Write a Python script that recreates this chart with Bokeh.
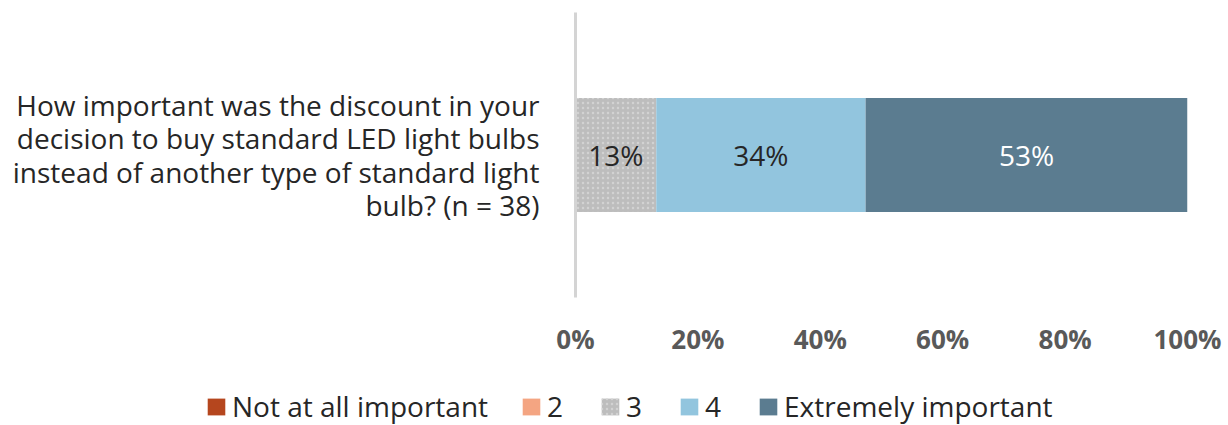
from bokeh.plotting import figure
from bokeh.layouts import column
from bokeh.models import (ColumnDataSource, Range1d, FactorRange, FixedTicker,
                          PrintfTickFormatter, Legend, LegendItem)
from bokeh.embed import file_html
from bokeh.resources import INLINE
from bokeh.core.properties import value

question = ("How important was the discount in your\n"
            "decision to buy standard LED light bulbs\n"
            "instead of another type of standard light\n"
            "bulb? (n = 38)")
series = ["Not at all important", "2", "3", "4", "Extremely important"]
values = [0.0, 0.0, 13.2, 34.2, 52.6]
bar_labels = ["", "", "13%", "34%", "53%"]
colors = ["#B5461E", "#F4A582", "#BDBDBD", "#92C5DE", "#5B7C90"]
label_colors = ["#262626", "#262626", "#262626", "#262626", "#FFFFFF"]
x_ticks = [0, 20, 40, 60, 80, 100]

FONT = "Open Sans"
W = 1228
H_MAIN = 370
H_LEG = 55

def hatch_kw(name):
    if name == "3":
        return dict(hatch_pattern="dot", hatch_color="#D2D2D2", hatch_scale=5,
                    hatch_weight=1)
    return {}

p = figure(width=W, height=H_MAIN, y_range=FactorRange(factors=[question]),
           x_range=Range1d(0, 100), output_backend="svg", toolbar_location=None,
           min_border_left=575, min_border_right=41, min_border_top=12,
           min_border_bottom=73)
p.frame_align = False
p.outline_line_color = None
p.xgrid.visible = False
p.ygrid.visible = False
p.background_fill_color = "white"
p.border_fill_color = "white"

sources = []
left = 0.0
mids, labs, lcols = [], [], []
for name, v, c, lab, lc in zip(series, values, colors, bar_labels, label_colors):
    src = ColumnDataSource(dict(y=[question], left=[left], right=[left + v]))
    sources.append(src)
    p.hbar(y="y", left="left", right="right", height=0.4, source=src,
           fill_color=c, line_color=None, **hatch_kw(name))
    if v > 0:
        mids.append(left + v / 2)
        labs.append(lab)
        lcols.append(lc)
    left += v

lsrc = ColumnDataSource(dict(x=mids, y=[question] * len(mids), t=labs, c=lcols))
p.text(x="x", y="y", text="t", source=lsrc, text_color="c",
       text_align="center", text_baseline="middle", text_font=value(FONT),
       text_font_size="28px")

# x axis
xa = p.xaxis[0]
xa.ticker = FixedTicker(ticks=x_ticks)
xa.formatter = PrintfTickFormatter(format="%d%%")
xa.axis_line_color = None
xa.major_tick_line_color = None
xa.minor_tick_line_color = None
xa.major_label_text_font = FONT
xa.major_label_text_font_size = "26px"
xa.major_label_text_font_style = "bold"
xa.major_label_text_color = "#595959"
xa.major_label_standoff = 17

# y axis
ya = p.yaxis[0]
ya.axis_line_color = "#D4D4D4"
ya.axis_line_width = 3
ya.major_tick_line_color = None
ya.minor_tick_line_color = None
ya.major_label_text_font = FONT
ya.major_label_text_font_size = "28px"
ya.major_label_text_color = "#262626"
ya.major_label_standoff = 30
ya.major_label_text_line_height = 0.87

# legend strip below the chart (same series, drawn off-range so only the legend shows)
pl = figure(width=W, height=H_LEG, x_range=Range1d(0, W),
            y_range=FactorRange(factors=["legend"]),
            x_axis_type=None, y_axis_type=None,
            output_backend="svg", toolbar_location=None,
            min_border_left=0, min_border_right=0, min_border_top=0,
            min_border_bottom=0)
pl.frame_align = False
pl.grid.visible = False
pl.outline_line_color = None
pl.background_fill_color = "white"
pl.border_fill_color = "white"

items = []
for name, c, src in zip(series, colors, sources):
    r = pl.hbar(y="y", left="left", right="right", height=0.4, source=src,
                fill_color=c, line_color=None, **hatch_kw(name))
    items.append(LegendItem(label=name, renderers=[r]))

legend = Legend(items=items, orientation="horizontal", location=(205, 0),
                glyph_width=22, glyph_height=21, label_standoff=5, spacing=32,
                padding=0, margin=0, border_line_color=None,
                background_fill_alpha=0,
                label_text_font=FONT, label_text_font_size="28px",
                label_text_color="#262626")
pl.add_layout(legend, "center")

layout = column(p, pl, spacing=0)
open("out.html", "w").write(file_html(layout, INLINE))
